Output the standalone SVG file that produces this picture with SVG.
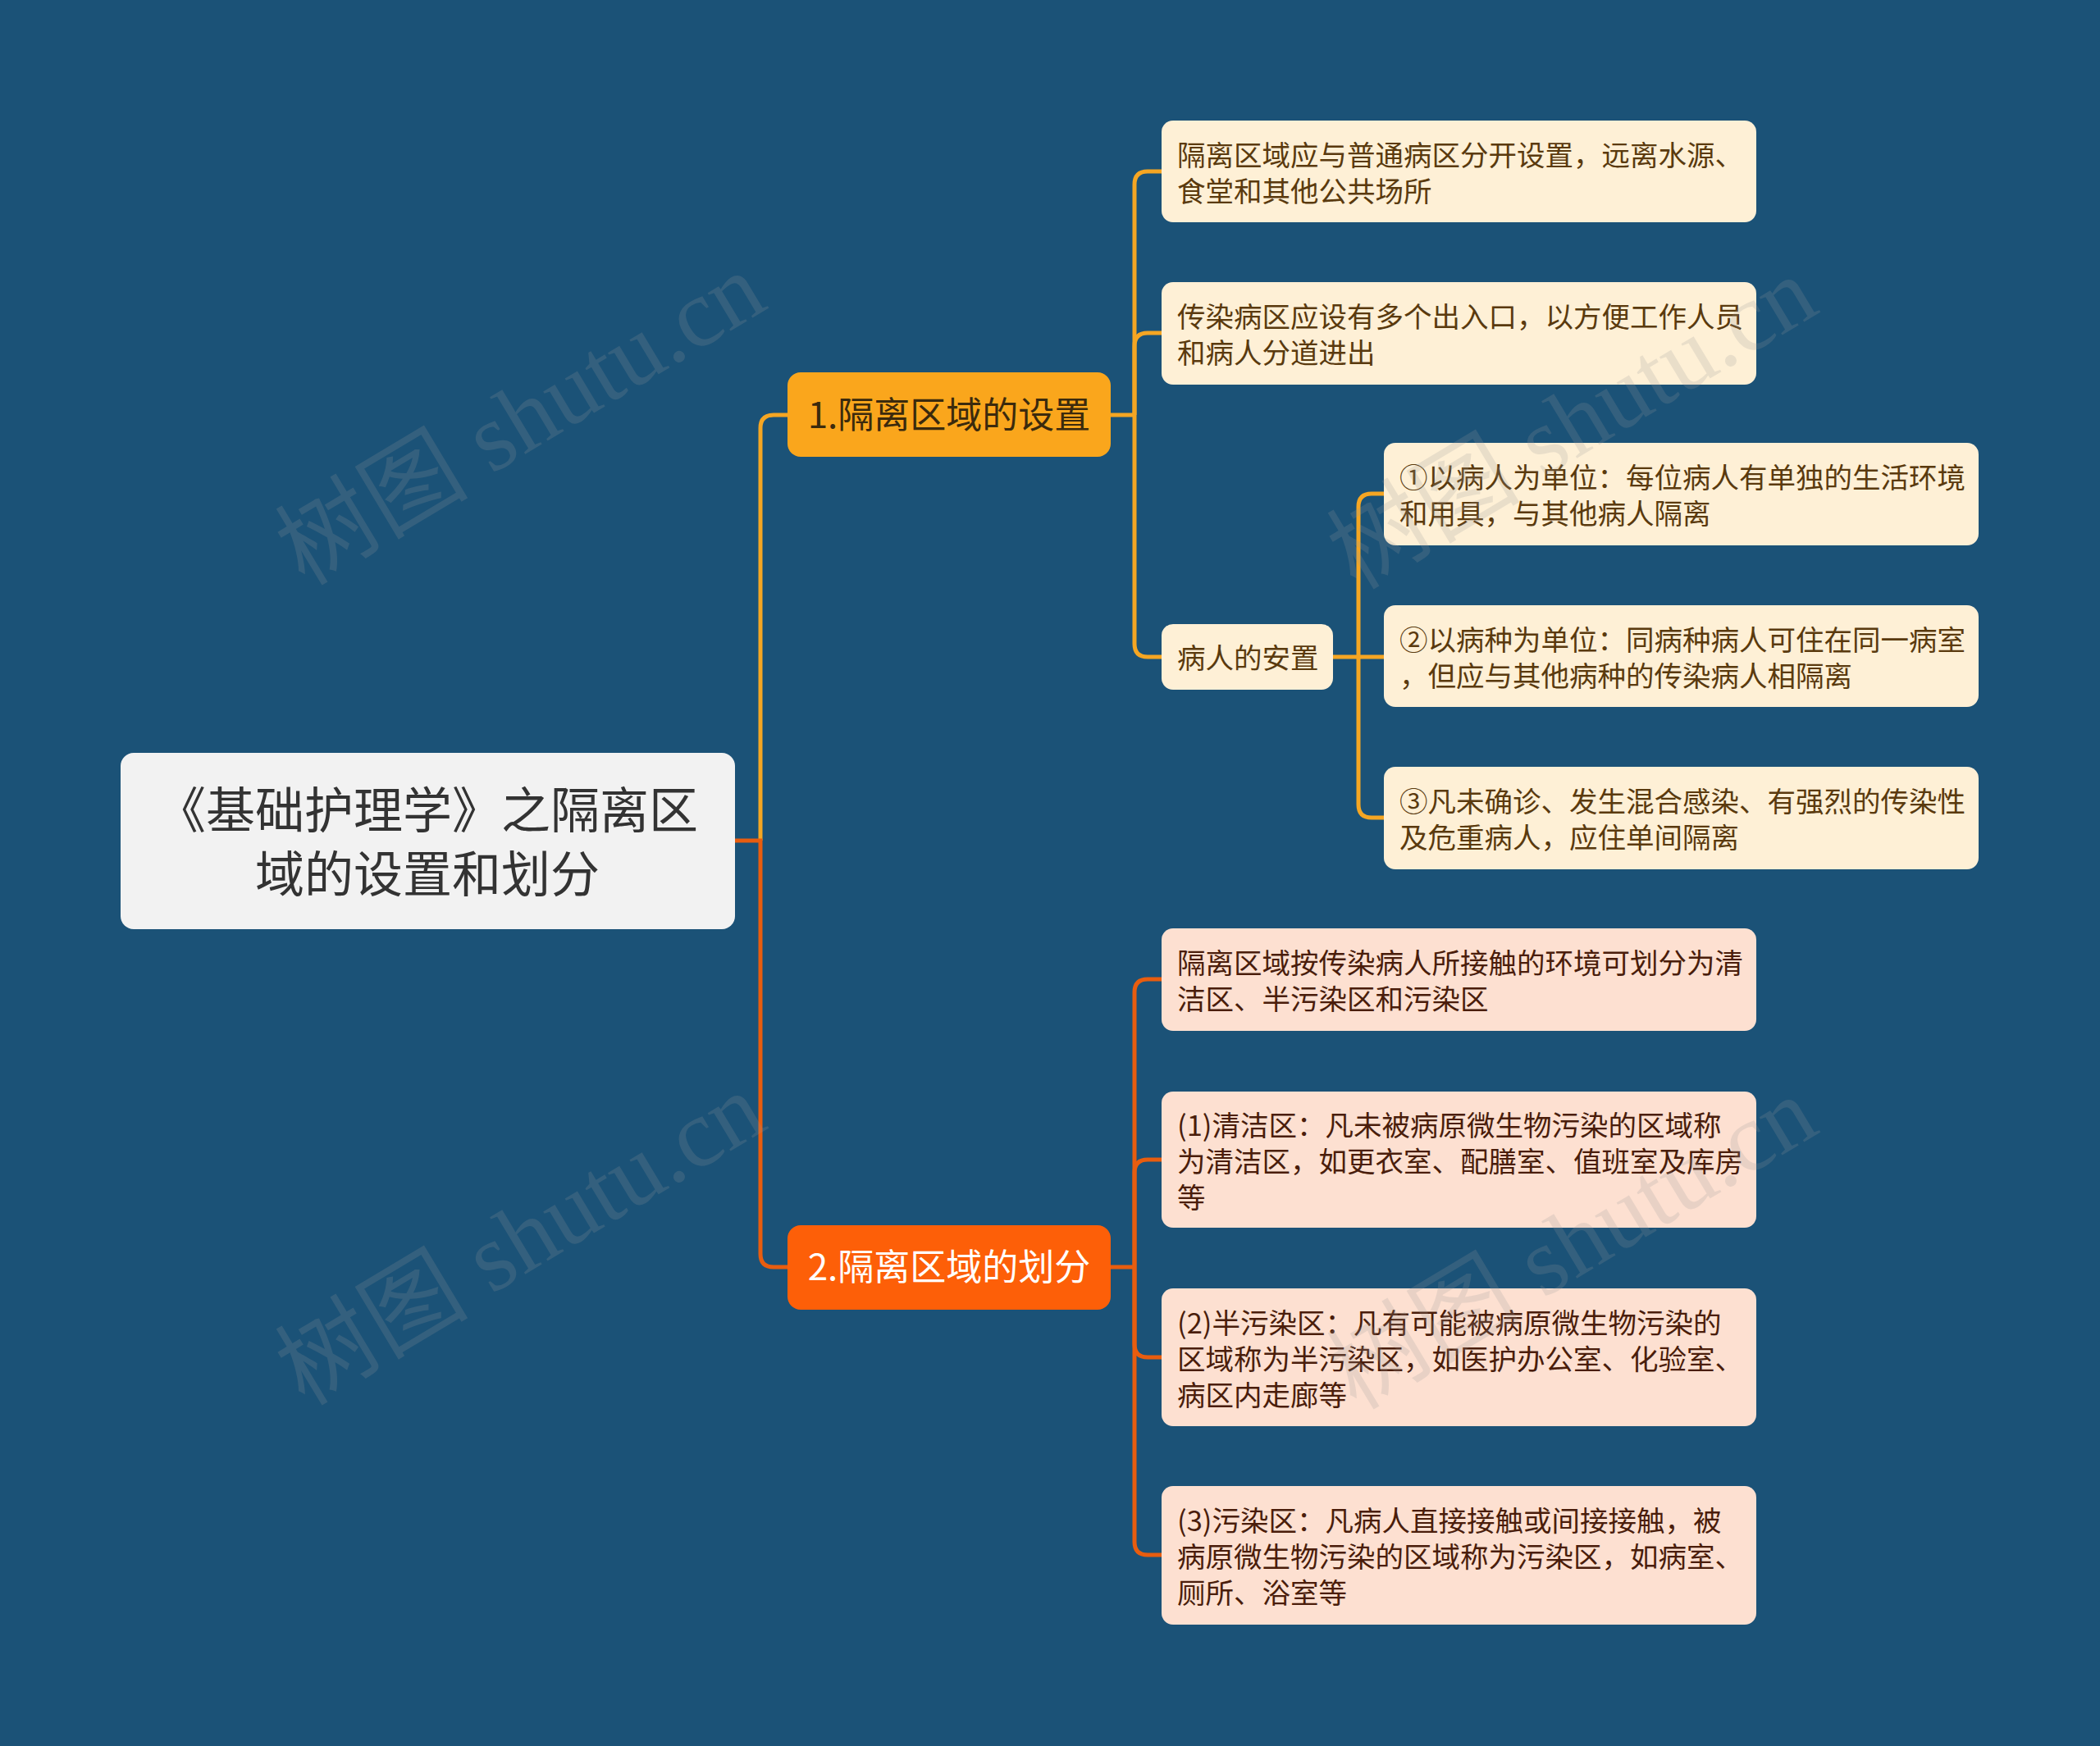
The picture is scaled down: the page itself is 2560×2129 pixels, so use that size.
<svg xmlns="http://www.w3.org/2000/svg" width="2560" height="2129" viewBox="0 0 2560 2129">
<style>
.bg{fill:#1b5277}
.root{fill:#f2f2f2}
.n1{fill:#faa61c}
.n2{fill:#fd5f08}
.c1{fill:#fef0d6}
.c2{fill:#fde0d1}
text{font-family:"Noto Sans CJK SC","Noto Sans",sans-serif}
.tr{font-size:60px;fill:#333333;text-anchor:middle}
.t1{font-size:44px;fill:#3b2a0d;text-anchor:middle}
.t2{font-size:44px;fill:#ffffff;text-anchor:middle}
.tc1{font-size:34.5px;fill:#5a3a0e}
.tc2{font-size:34.5px;fill:#4a1d0b}
.l1{fill:none;stroke:#f5a623;stroke-width:5}
.l2{fill:none;stroke:#e85d0f;stroke-width:5}
.wm{font-family:"Liberation Serif","Noto Sans CJK SC",serif;font-size:118px;fill:#9a9a9a;opacity:0.2;text-anchor:middle}
</style>
<rect class="bg" x="0" y="0" width="2560" height="2129"/>
<g id="connectors">
<path class="l1" d="M927,1025 V522 Q927,506 943,506 H960"/>
<path class="l2" d="M896,1025 H927 V1529 Q927,1545 943,1545 H960"/>
<path class="l1" d="M1354,506 H1383"/>
<path class="l1" d="M1383,506 V225 Q1383,209 1399,209 H1416"/>
<path class="l1" d="M1383,506 V422 Q1383,406 1399,406 H1416"/>
<path class="l1" d="M1383,506 V785 Q1383,801 1399,801 H1416"/>
<path class="l1" d="M1625,801 H1687"/>
<path class="l1" d="M1656,801 V618 Q1656,602 1672,602 H1687"/>
<path class="l1" d="M1656,801 V981 Q1656,997 1672,997 H1687"/>
<path class="l2" d="M1354,1545 H1383"/>
<path class="l2" d="M1383,1545 V1210 Q1383,1194 1399,1194 H1416"/>
<path class="l2" d="M1383,1545 V1430 Q1383,1414 1399,1414 H1416"/>
<path class="l2" d="M1383,1545 V1639 Q1383,1655 1399,1655 H1416"/>
<path class="l2" d="M1383,1545 V1880 Q1383,1896 1399,1896 H1416"/>
</g>
<g id="root">
<rect class="root" x="147" y="918" width="749" height="215" rx="16"/>
<text class="tr" x="521" y="1010">《基础护理学》之隔离区<tspan x="521" dy="78">域的设置和划分</tspan></text>
</g>
<g id="n1">
<rect class="n1" x="960" y="454" width="394" height="103" rx="16"/>
<text class="t1" x="1157" y="522">1.隔离区域的设置</text>
</g>
<g id="n2">
<rect class="n2" x="960" y="1494" width="394" height="103" rx="16"/>
<text class="t2" x="1157" y="1561">2.隔离区域的划分</text>
</g>
<g id="n1a">
<rect class="c1" x="1416" y="147" width="725" height="124" rx="14"/>
<text class="tc1" x="1435" y="202">隔离区域应与普通病区分开设置，远离水源、<tspan x="1435" dy="44">食堂和其他公共场所</tspan></text>
</g>
<g id="n1b">
<rect class="c1" x="1416" y="344" width="725" height="125" rx="14"/>
<text class="tc1" x="1435" y="399">传染病区应设有多个出入口，以方便工作人员<tspan x="1435" dy="44">和病人分道进出</tspan></text>
</g>
<g id="n1c">
<rect class="c1" x="1416" y="761" width="209" height="80" rx="14"/>
<text class="tc1" x="1435" y="815">病人的安置</text>
</g>
<g id="n1c1">
<rect class="c1" x="1687" y="540" width="725" height="125" rx="14"/>
<text class="tc1" x="1706" y="595">①以病人为单位：每位病人有单独的生活环境<tspan x="1706" dy="44">和用具，与其他病人隔离</tspan></text>
</g>
<g id="n1c2">
<rect class="c1" x="1687" y="738" width="725" height="124" rx="14"/>
<text class="tc1" x="1706" y="793">②以病种为单位：同病种病人可住在同一病室<tspan x="1706" dy="44">，但应与其他病种的传染病人相隔离</tspan></text>
</g>
<g id="n1c3">
<rect class="c1" x="1687" y="935" width="725" height="125" rx="14"/>
<text class="tc1" x="1706" y="990">③凡未确诊、发生混合感染、有强烈的传染性<tspan x="1706" dy="44">及危重病人，应住单间隔离</tspan></text>
</g>
<g id="n2a">
<rect class="c2" x="1416" y="1132" width="725" height="125" rx="14"/>
<text class="tc2" x="1435" y="1187">隔离区域按传染病人所接触的环境可划分为清<tspan x="1435" dy="44">洁区、半污染区和污染区</tspan></text>
</g>
<g id="n2b">
<rect class="c2" x="1416" y="1331" width="725" height="166" rx="14"/>
<text class="tc2" x="1435" y="1385">(1)清洁区：凡未被病原微生物污染的区域称<tspan x="1435" dy="44">为清洁区，如更衣室、配膳室、值班室及库房</tspan><tspan x="1435" dy="44">等</tspan></text>
</g>
<g id="n2c">
<rect class="c2" x="1416" y="1571" width="725" height="168" rx="14"/>
<text class="tc2" x="1435" y="1626">(2)半污染区：凡有可能被病原微生物污染的<tspan x="1435" dy="44">区域称为半污染区，如医护办公室、化验室、</tspan><tspan x="1435" dy="44">病区内走廊等</tspan></text>
</g>
<g id="n2d">
<rect class="c2" x="1416" y="1812" width="725" height="169" rx="14"/>
<text class="tc2" x="1435" y="1867">(3)污染区：凡病人直接接触或间接接触，被<tspan x="1435" dy="44">病原微生物污染的区域称为污染区，如病室、</tspan><tspan x="1435" dy="44">厕所、浴室等</tspan></text>
</g>
<g id="watermarks">
<text class="wm" transform="translate(655,545) rotate(-31)">树图 shutu.cn</text>
<text class="wm" transform="translate(1937,550) rotate(-31)">树图 shutu.cn</text>
<text class="wm" transform="translate(655,1545) rotate(-31)">树图 shutu.cn</text>
<text class="wm" transform="translate(1937,1550) rotate(-31)">树图 shutu.cn</text>
</g>
</svg>
